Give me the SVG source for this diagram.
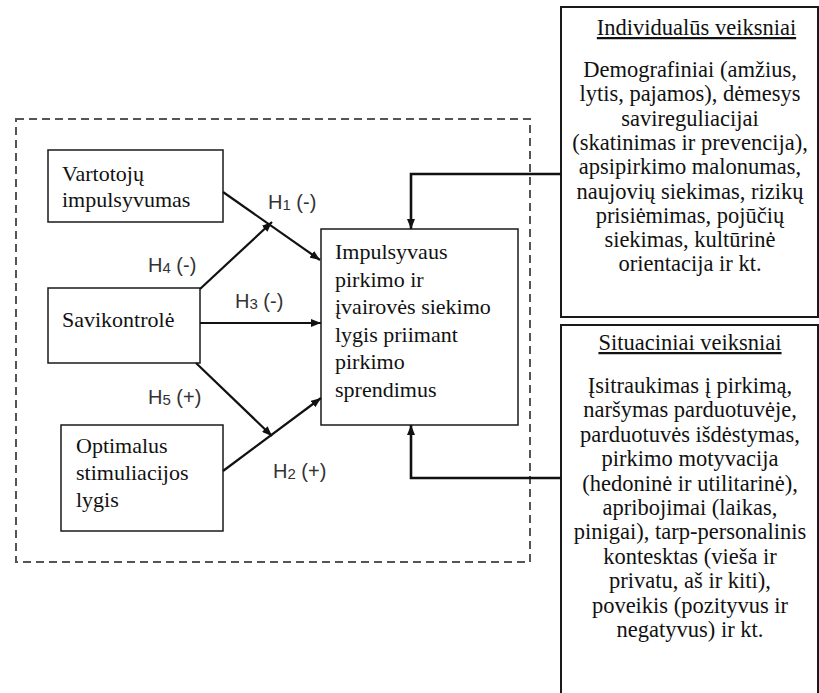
<svg xmlns="http://www.w3.org/2000/svg" width="819" height="693" viewBox="0 0 819 693">
<style>
.box{fill:#fff;stroke:#1a1a1a;stroke-width:1.5}
.rbox{fill:#fff;stroke:#1a1a1a;stroke-width:2}
.t{font-family:"Liberation Serif","Times New Roman",serif;font-size:22px;fill:#111}
.r{font-size:22.5px}
.c{text-anchor:middle}
.lab{font-family:"Liberation Sans",Arial,sans-serif;font-size:20px;fill:#333}
.sub{font-size:15px}
.con{fill:none;stroke:#111;stroke-width:2.2}
.fb{fill:none;stroke:#111;stroke-width:2.6}
</style>
<defs>
<marker id="ah" markerUnits="userSpaceOnUse" markerWidth="10" markerHeight="8" refX="10" refY="4" orient="auto">
<path d="M0,0 L10,4 L0,8 z" fill="#111"/>
</marker>
</defs>
<rect x="16" y="119" width="514" height="443" fill="none" stroke="#555" stroke-width="2" stroke-dasharray="8,5"/>
<g id="vartotoju">
<rect class="box" x="48" y="150" width="175" height="72"/>
<text class="t" x="62" y="181">Vartotojų</text>
<text class="t" x="62" y="207">impulsyvumas</text>
</g>
<g id="savikontrole">
<rect class="box" x="48" y="288" width="152" height="75"/>
<text class="t" x="62" y="327">Savikontrolė</text>
</g>
<g id="optimalus">
<rect class="box" x="61" y="425" width="162" height="106"/>
<text class="t" x="76" y="453">Optimalus</text>
<text class="t" x="76" y="480">stimuliacijos</text>
<text class="t" x="76" y="507">lygis</text>
</g>
<g id="centras">
<rect class="box" x="321" y="229" width="197" height="196"/>
<text class="t" x="335" y="259">Impulsyvaus</text>
<text class="t" x="335" y="286.5">pirkimo ir</text>
<text class="t" x="335" y="314">įvairovės siekimo</text>
<text class="t" x="335" y="341.5">lygis priimant</text>
<text class="t" x="335" y="369">pirkimo</text>
<text class="t" x="335" y="396.5">sprendimus</text>
</g>
<g id="individualus">
<rect class="rbox" x="561" y="7" width="257" height="310"/>
<text class="t r c" x="696.5" y="35" text-decoration="underline">Individualūs veiksniai</text>
<text class="t r c" x="690" y="77">Demografiniai (amžius,</text>
<text class="t r c" x="690" y="101.3">lytis, pajamos), dėmesys</text>
<text class="t r c" x="690" y="125.6">savireguliacijai</text>
<text class="t r c" x="690" y="149.9">(skatinimas ir prevencija),</text>
<text class="t r c" x="690" y="174.2">apsipirkimo malonumas,</text>
<text class="t r c" x="690" y="198.5">naujovių siekimas, rizikų</text>
<text class="t r c" x="690" y="222.8">prisiėmimas, pojūčių</text>
<text class="t r c" x="690" y="247.1">siekimas, kultūrinė</text>
<text class="t r c" x="690" y="271.4">orientacija ir kt.</text>
</g>
<g id="situaciniai">
<rect class="rbox" x="561" y="325" width="257" height="380"/>
<text class="t r c" x="690" y="350" text-decoration="underline">Situaciniai veiksniai</text>
<text class="t r c" x="690" y="393">Įsitraukimas į pirkimą,</text>
<text class="t r c" x="690" y="417.4">naršymas parduotuvėje,</text>
<text class="t r c" x="690" y="441.8">parduotuvės išdėstymas,</text>
<text class="t r c" x="690" y="466.2">pirkimo motyvacija</text>
<text class="t r c" x="690" y="490.6">(hedoninė ir utilitarinė),</text>
<text class="t r c" x="690" y="515">apribojimai (laikas,</text>
<text class="t r c" x="690" y="539.4">pinigai), tarp-personalinis</text>
<text class="t r c" x="690" y="563.8">kontesktas (vieša ir</text>
<text class="t r c" x="690" y="588.2">privatu, aš ir kiti),</text>
<text class="t r c" x="690" y="612.6">poveikis (pozityvus ir</text>
<text class="t r c" x="690" y="637">negatyvus) ir kt.</text>
</g>
<g id="connectors">
<line class="con" x1="223" y1="192" x2="320" y2="260" marker-end="url(#ah)"/>
<line class="con" x1="200" y1="289" x2="272" y2="222" marker-end="url(#ah)"/>
<line class="con" x1="200" y1="323" x2="321" y2="323" marker-end="url(#ah)"/>
<line class="con" x1="196" y1="363" x2="272" y2="436" marker-end="url(#ah)"/>
<line class="con" x1="223" y1="471" x2="321" y2="398" marker-end="url(#ah)"/>
<path class="fb" d="M561,174 H411 V229" marker-end="url(#ah)"/>
<path class="fb" d="M561,478 H411 V425" marker-end="url(#ah)"/>
</g>
<g id="labels">
<text class="lab" x="268" y="209">H<tspan class="sub" dy="1">1</tspan><tspan dy="-1"> (-)</tspan></text>
<text class="lab" x="148" y="272">H<tspan class="sub" dy="1">4</tspan><tspan dy="-1"> (-)</tspan></text>
<text class="lab" x="235" y="308">H<tspan class="sub" dy="1">3</tspan><tspan dy="-1"> (-)</tspan></text>
<text class="lab" x="148" y="404">H<tspan class="sub" dy="1">5</tspan><tspan dy="-1"> (+)</tspan></text>
<text class="lab" x="273" y="478">H<tspan class="sub" dy="1">2</tspan><tspan dy="-1"> (+)</tspan></text>
</g>
</svg>
